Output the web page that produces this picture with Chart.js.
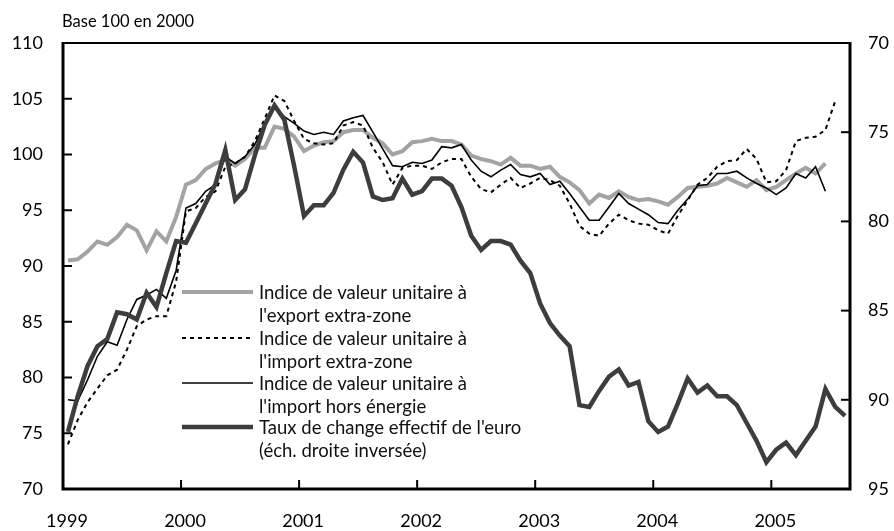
<!DOCTYPE html>
<html>
<head>
<meta charset="utf-8">
<script src="https://cdn.jsdelivr.net/npm/chart.js@4.4.1/dist/chart.umd.min.js"></script>
<style>
  html, body { margin: 0; padding: 0; background: #ffffff; }
  #wrap { width: 894px; height: 531px; position: relative; }
</style>
</head>
<body>
<div id="wrap"><canvas id="c" width="894" height="531"></canvas></div>
<script>
// ---- Data (monthly, January 1999 = index 0) ----
const startYear = 1999;
const yearLabels = ['1999', '2000', '2001', '2002', '2003', '2004', '2005'];
const leftTicks = [70, 75, 80, 85, 90, 95, 100, 105, 110];
const rightTicks = [70, 75, 80, 85, 90, 95];

const seriesNames = [
  ["Indice de valeur unitaire à", "l'export extra-zone"],
  ["Indice de valeur unitaire à", "l'import extra-zone"],
  ["Indice de valeur unitaire à", "l'import hors énergie"],
  ["Taux de change effectif de l'euro", "(éch. droite inversée)"]
];

// Indice de valeur unitaire à l'export extra-zone (left axis)
const exportExtra = [
  90.5, 90.6, 91.3, 92.2, 91.9, 92.6, 93.7, 93.2, 91.4, 93.1, 92.2, 94.4,
  97.3, 97.7, 98.7, 99.2, 99.5, 99.0, 99.6, 100.6, 100.6, 102.5, 102.3, 101.6,
  100.3, 100.8, 101.1, 101.2, 102.0, 102.2, 102.2, 101.5, 101.0, 100.0, 100.3, 101.1,
  101.2, 101.4, 101.2, 101.2, 100.9, 99.9, 99.6, 99.4, 99.1, 99.7, 99.0, 99.0,
  98.7, 98.9, 98.0, 97.5, 96.8, 95.6, 96.4, 96.1, 96.7, 96.2, 95.9, 96.0,
  95.8, 95.5, 96.2, 97.0, 97.1, 97.2, 97.4, 97.9, 97.5, 97.1, 97.7, 96.8,
  97.1, 97.7, 98.3, 98.8, 98.3, 99.2
];

// Indice de valeur unitaire à l'import extra-zone (left axis)
const importExtra = [
  74.0, 76.2, 77.8, 79.0, 80.2, 80.7, 82.5, 84.6, 85.2, 85.5, 85.5, 88.6,
  94.9, 95.2, 96.2, 96.7, 98.9, 99.2, 99.8, 101.2, 103.2, 105.3, 104.8, 103.0,
  101.4, 101.0, 100.9, 101.0, 102.6, 102.9, 102.6, 100.6, 99.3, 97.3, 98.8, 99.0,
  99.0, 98.7, 99.3, 99.6, 99.6, 98.0, 96.9, 96.6, 97.3, 97.9, 97.0, 97.4,
  97.9, 97.7, 97.2, 95.6, 93.6, 92.9, 92.7, 93.8, 94.6, 94.1, 93.8, 93.7,
  93.2, 92.9, 94.5, 95.9, 97.3, 97.9, 98.9, 99.4, 99.5, 100.5, 99.6, 97.5,
  97.6, 98.6, 101.2, 101.5, 101.6, 102.2, 104.8
];

// Indice de valeur unitaire à l'import hors énergie (left axis)
const importNonEnergy = [
  78.0, 77.9, 79.8, 81.9, 83.2, 82.9, 85.2, 87.0, 87.4, 87.9, 87.1, 89.6,
  95.2, 95.6, 96.7, 97.3, 99.8, 99.2, 99.8, 100.9, 102.8, 104.3, 103.4, 102.8,
  102.1, 101.8, 102.0, 101.8, 103.0, 103.3, 103.5, 102.0, 100.5, 99.0, 98.9, 99.3,
  99.2, 99.5, 100.7, 100.6, 100.9, 99.5, 98.5, 98.0, 98.6, 99.1, 98.2, 98.0,
  98.3, 97.3, 97.6, 96.5, 95.3, 94.1, 94.1, 95.3, 96.5, 95.6, 95.1, 94.6,
  93.9, 93.8, 95.0, 96.0, 97.2, 97.3, 98.3, 98.3, 98.5, 97.9, 97.4, 97.0,
  96.4, 97.0, 98.3, 97.9, 98.9, 96.7
];

// Taux de change effectif de l'euro (right axis, inverted)
const euroRate = [
  91.8, 89.8, 88.1, 87.0, 86.6, 85.1, 85.2, 85.5, 84.0, 84.8, 82.9, 81.1,
  81.2, 80.1, 79.0, 77.9, 76.0, 78.8, 78.2, 76.3, 74.6, 73.5, 74.3, 76.9,
  79.7, 79.1, 79.1, 78.4, 77.1, 76.1, 76.7, 78.6, 78.8, 78.7, 77.6, 78.5,
  78.3, 77.6, 77.6, 78.0, 79.2, 80.8, 81.6, 81.1, 81.1, 81.3, 82.2, 82.9,
  84.6, 85.7, 86.4, 87.0, 90.3, 90.4, 89.5, 88.7, 88.3, 89.2, 89.0, 91.2,
  91.8, 91.5, 90.2, 88.8, 89.6, 89.2, 89.8, 89.8, 90.3, 91.3, 92.3, 93.5,
  92.8, 92.4, 93.1, 92.3, 91.5, 89.4, 90.4, 90.9
];

// ---- Build points (each month plotted at mid-month) ----
function toPoints(arr) {
  return arr.map((v, i) => ({ x: i + 0.5, y: v }));
}

const FONT = 'Lato, "Open Sans", "DejaVu Sans", sans-serif';

const styles = [
  { color: '#a3a3a3', width: 4, dash: [] },
  { color: '#000000', width: 2, dash: [4, 4] },
  { color: '#000000', width: 1.6, dash: [] },
  { color: '#3d3d3d', width: 4.5, dash: [] }
];

const framePlugin = {
  id: 'frameAndLegend',
  afterDatasetsDraw(chart) {
    const ctx = chart.ctx;
    const a = chart.chartArea;
    const sx = chart.scales.x, sy = chart.scales.y, sy1 = chart.scales.y1;
    ctx.save();
    ctx.strokeStyle = '#000';
    ctx.lineCap = 'butt';
    // inward tick marks
    ctx.lineWidth = 2;
    leftTicks.forEach(v => {
      if (v === 70 || v === 110) return;
      const y = sy.getPixelForValue(v);
      ctx.beginPath(); ctx.moveTo(a.left, y); ctx.lineTo(a.left + 9, y); ctx.stroke();
    });
    rightTicks.forEach(v => {
      if (v === 70 || v === 95) return;
      const y = sy1.getPixelForValue(v);
      ctx.beginPath(); ctx.moveTo(a.right, y); ctx.lineTo(a.right - 9, y); ctx.stroke();
    });
    yearLabels.forEach((lab, k) => {
      if (k === 0) return;
      const x = sx.getPixelForValue(k * 12);
      ctx.beginPath(); ctx.moveTo(x, a.bottom); ctx.lineTo(x, a.bottom - 9); ctx.stroke();
    });
    // frame
    ctx.lineWidth = 2;
    ctx.beginPath(); ctx.moveTo(a.left, a.top); ctx.lineTo(a.right, a.top); ctx.stroke();
    ctx.lineWidth = 3;
    ctx.beginPath(); ctx.moveTo(a.left, a.top - 1); ctx.lineTo(a.left, a.bottom); ctx.lineTo(a.right, a.bottom); ctx.lineTo(a.right, a.top - 1); ctx.stroke();

    // unit label
    ctx.fillStyle = '#000';
    ctx.font = '16.5px ' + FONT;
    ctx.textAlign = 'left';
    ctx.textBaseline = 'middle';
    ctx.fillText('Base 100 en 2000', a.left - 1, 22);

    // legend
    const lx0 = a.left + 119, lx1 = a.left + 190, tx = a.left + 196;
    const rowY = [a.top + 249, a.top + 295, a.top + 340, a.top + 384];
    const lineGap = 23;
    ctx.font = '18.5px ' + FONT;
    seriesNames.forEach((lines, i) => {
      const st = styles[i];
      ctx.strokeStyle = st.color;
      ctx.lineWidth = st.width;
      ctx.setLineDash(st.dash);
      ctx.beginPath(); ctx.moveTo(lx0, rowY[i]); ctx.lineTo(lx1, rowY[i]); ctx.stroke();
      ctx.setLineDash([]);
      ctx.fillStyle = '#111';
      lines.forEach((t, j) => ctx.fillText(t, tx, rowY[i] + j * lineGap + 1));
    });
    ctx.restore();
  }
};

const datasets = [
  { label: seriesNames[3].join(' '), data: toPoints(euroRate), yAxisID: 'y1' },
  { label: seriesNames[2].join(' '), data: toPoints(importNonEnergy), yAxisID: 'y' },
  { label: seriesNames[1].join(' '), data: toPoints(importExtra), yAxisID: 'y' },
  { label: seriesNames[0].join(' '), data: toPoints(exportExtra), yAxisID: 'y' }
].map((d, k) => {
  const st = styles[3 - k];
  return Object.assign(d, {
    borderColor: st.color,
    borderWidth: st.width,
    borderDash: st.dash,
    pointRadius: 0,
    tension: 0,
    fill: false,
    borderJoinStyle: 'miter',
    borderCapStyle: 'butt'
  });
});

new Chart(document.getElementById('c'), {
  type: 'line',
  data: { datasets },
  options: {
    responsive: false,
    animation: false,
    devicePixelRatio: 1,
    layout: { padding: { top: 43, left: 0, right: 0, bottom: 0 } },
    plugins: { legend: { display: false }, tooltip: { enabled: false }, title: { display: false } },
    scales: {
      x: {
        type: 'linear', min: 0, max: 80,
        grid: { display: false, drawTicks: false },
        border: { display: false },
        ticks: {
          stepSize: 12, includeBounds: false, autoSkip: false, maxRotation: 0,
          padding: 21, labelOffset: 4, color: '#000',
          font: { family: FONT, size: 18 },
          callback: v => (v % 12 === 0 ? yearLabels[v / 12] : '')
        },
        afterFit: s => { s.height = 42; }
      },
      y: {
        type: 'linear', position: 'left', min: 70, max: 110,
        grid: { display: false, drawTicks: false },
        border: { display: false },
        ticks: { stepSize: 5, padding: 20, color: '#000', font: { family: FONT, size: 18 } },
        afterFit: s => { s.width = 63; }
      },
      y1: {
        type: 'linear', position: 'right', min: 70, max: 95, reverse: true,
        grid: { display: false, drawTicks: false },
        border: { display: false },
        ticks: { stepSize: 5, padding: 18, color: '#000', font: { family: FONT, size: 18 } },
        afterFit: s => { s.width = 44; }
      }
    }
  },
  plugins: [framePlugin]
});
</script>
</body>
</html>
